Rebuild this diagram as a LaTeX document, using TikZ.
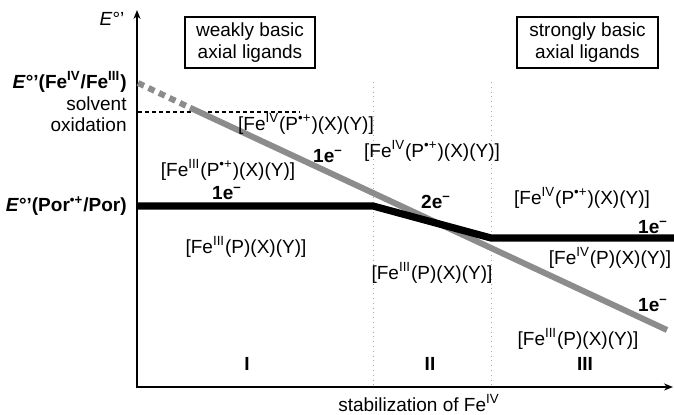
\documentclass[tikz,border=0pt]{standalone}
\usepackage{fontspec}
\setmainfont{Liberation Sans}
\usetikzlibrary{arrows.meta}
\definecolor{lgray}{RGB}{140,140,140}
\newcommand{\Fe}[1]{Fe\textsuperscript{#1}}
\newcommand{\Prad}{P\textsuperscript{\textbullet+}}
\newcommand{\el}[1]{\textbf{#1e\textsuperscript{–}}}
\begin{document}
\begin{tikzpicture}[x=0.5pt,y=-0.5pt,
  font=\fontsize{9.5}{11}\selectfont,
  lbl/.style={inner sep=0pt},
  lblr/.style={inner sep=0pt,anchor=east},
  ligbox/.style={draw,line width=0.6pt,inner sep=0pt,align=center,minimum height=25.5pt},
  axisline/.style={line width=0.75pt,{Stealth[length=4.5pt,width=3.5pt]}-{Stealth[length=4.5pt,width=3.5pt]}},
  divider/.style={gray!70,line width=0.4pt,dotted},
  grayline/.style={lgray,line width=3pt},
  blackline/.style={black,line width=3.6pt},
  ]
\useasboundingbox (0,0) rectangle (674,415);

% axes
\coordinate (ytop) at (137,10);
\coordinate (orig) at (137,387);
\coordinate (xend) at (673,387);
\draw[axisline] (ytop) -- (orig) -- (xend);

% region dividers
\coordinate (d1t) at (373,82); \coordinate (d1b) at (373,386);
\coordinate (d2t) at (491,82); \coordinate (d2b) at (491,386);
\draw[divider] (d1t) -- (d1b);
\draw[divider] (d2t) -- (d2b);

% solvent oxidation line
\coordinate (s0) at (138,112); \coordinate (s1) at (300,112);
\draw[line width=0.6pt,dash pattern=on 2pt off 1.5pt] (s0) -- (s1);

% gray Fe(IV)/Fe(III) line
\coordinate (g0) at (138,83);
\coordinate (g1) at (190,107.7);
\coordinate (g2) at (667,330);
\draw[grayline,dash pattern=on 3.3pt off 2.5pt] (g0) -- (g1);
\draw[grayline] (g1) -- (g2);

% black Por line
\coordinate (b0) at (138,206);
\coordinate (b1) at (373,206);
\coordinate (b2) at (491,238);
\coordinate (b3) at (674,238);
\draw[blackline] (b0) -- (b1) -- (b2) -- (b3);

% boxes
\node[ligbox,minimum width=65pt] (weak) at (250,42.5) {weakly basic\\axial ligands};
\node[ligbox,minimum width=70.5pt] (strong) at (587.5,42.5) {strongly basic\\axial ligands};

% axis labels
\node[lbl] (ylab) at (112,19) {\textit{E}°'};
\node[lbl] (xlab) at (419,403) {stabilization of \Fe{IV}};

% left labels
\node[lblr] (efe) at (127,82) {\textbf{\textit{E}°'(\Fe{IV}/\Fe{III})}};
\node[lblr] (solv) at (127,104) {solvent};
\node[lblr] (oxid) at (127,125) {oxidation};
\node[lblr] (epor) at (127,206) {\textbf{\textit{E}°'(Por\textsuperscript{\textbullet+}/Por)}};

% region I
\node[lbl] (r1a) at (306,124) {[\Fe{IV}(\Prad)(X)(Y)]};
\node[lbl] (r1e1) at (328,156) {\el{1}};
\node[lbl] (r1b) at (228,170) {[\Fe{III}(\Prad)(X)(Y)]};
\node[lbl] (r1e2) at (227,193) {\el{1}};
\node[lbl] (r1c) at (246,247) {[\Fe{III}(P)(X)(Y)]};

% region II
\node[lbl] (r2a) at (432,151) {[\Fe{IV}(\Prad)(X)(Y)]};
\node[lbl] (r2e) at (436,202) {\el{2}};
\node[lbl] (r2b) at (432,273) {[\Fe{III}(P)(X)(Y)]};

% region III
\node[lbl] (r3a) at (582,198) {[\Fe{IV}(\Prad)(X)(Y)]};
\node[lbl] (r3e1) at (653,227) {\el{1}};
\node[lbl] (r3b) at (610,258) {[\Fe{IV}(P)(X)(Y)]};
\node[lbl] (r3e2) at (653,305) {\el{1}};
\node[lbl] (r3c) at (578,339) {[\Fe{III}(P)(X)(Y)]};

% region numerals
\node[lbl] (n1) at (247,364) {\textbf{I}};
\node[lbl] (n2) at (430,364) {\textbf{II}};
\node[lbl] (n3) at (585,364) {\textbf{III}};
\end{tikzpicture}
\end{document}
